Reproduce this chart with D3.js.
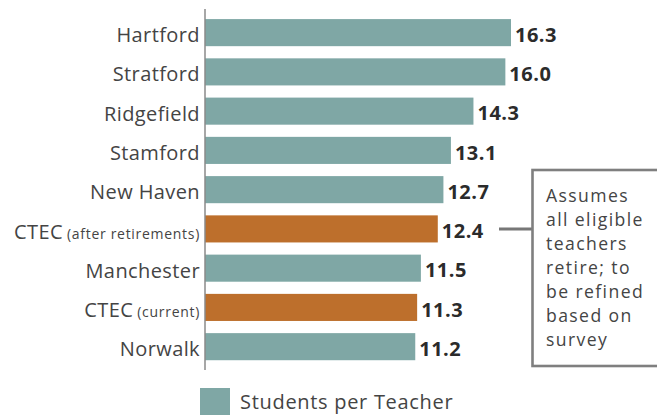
<!DOCTYPE html>
<html><head><meta charset="utf-8">
<script src="https://cdn.jsdelivr.net/npm/d3@7"></script>
<style>
body{margin:0;background:#fff;}
svg{display:block;font-family:"Open Sans",Lato,sans-serif;}
</style></head>
<body>
<svg id="chart" width="657" height="415"></svg>
<script>
const categories = ["Hartford","Stratford","Ridgefield","Stamford","New Haven","CTEC","Manchester","CTEC","Norwalk"];
const subLabels = ["","","","","","(after retirements)","","(current)",""];
const values = [16.3,16.0,14.3,13.1,12.7,12.4,11.5,11.3,11.2];
const highlight = [false,false,false,false,false,true,false,true,false];
const noteLines = ["Assumes","all eligible","teachers","retire; to","be refined","based on","survey"];
const legendLabel = "Students per Teacher";

const teal = "#7fa7a5", orange = "#bd6f2c";
const svg = d3.select("#chart");
const x0 = 205;
const x = d3.scaleLinear().domain([0, 16.3]).range([x0, 511]);
const y = d3.scaleBand().domain(d3.range(values.length)).range([13, 366.3]).paddingInner(0.31).paddingOuter(0.155);

svg.selectAll("rect.bar").data(values).join("rect")
  .attr("class","bar")
  .attr("x", x(0)).attr("y",(d,i)=>y(i))
  .attr("width", d=>x(d)-x(0)).attr("height", y.bandwidth())
  .attr("fill",(d,i)=>highlight[i]?orange:teal);

svg.append("line").attr("x1",x0).attr("x2",x0).attr("y1",9).attr("y2",370)
  .attr("stroke","#8a8a8a").attr("stroke-width",1.5);

svg.selectAll("text.val").data(values).join("text")
  .attr("class","val")
  .attr("x", d=>x(d)+4).attr("y",(d,i)=>y(i)+y.bandwidth()/2+9.3)
  .attr("font-size",20).attr("font-weight",700).attr("fill","#2b2b2b").attr("letter-spacing",0.5)
  .text(d=>d.toFixed(1));

const cat = svg.selectAll("text.cat").data(categories).join("text")
  .attr("class","cat")
  .attr("x", 200).attr("y",(d,i)=>y(i)+y.bandwidth()/2+9.6)
  .attr("text-anchor","end")
  .attr("font-size",20).attr("fill","#444").attr("letter-spacing",0.4);
cat.append("tspan").text(d=>d);
cat.append("tspan").attr("font-size",14).attr("letter-spacing",0.7)
  .attr("dx",(d,i)=>subLabels[i]?4:0)
  .text((d,i)=>subLabels[i] || "");

// annotation
const ay = y(5)+y.bandwidth()/2;
svg.append("line").attr("x1",499).attr("x2",532).attr("y1",ay).attr("y2",ay)
  .attr("stroke","#777").attr("stroke-width",3);
svg.append("rect").attr("x",532.5).attr("y",170).attr("width",130).attr("height",196)
  .attr("fill","#fff").attr("stroke","#7f7f7f").attr("stroke-width",2.6);
svg.append("text").attr("x",546).attr("y",202)
  .attr("font-size",17.6).attr("fill","#444").attr("letter-spacing",1.4)
  .selectAll("tspan").data(noteLines).join("tspan")
  .attr("x",546).attr("dy",(d,i)=>i?24:0).text(d=>d);

// legend
svg.append("rect").attr("x",200).attr("y",388).attr("width",30).attr("height",27).attr("fill",teal);
svg.append("text").attr("x",240).attr("y",409).attr("font-size",20).attr("fill","#444")
  .attr("letter-spacing",0.7).text(legendLabel);
</script>
</body></html>
